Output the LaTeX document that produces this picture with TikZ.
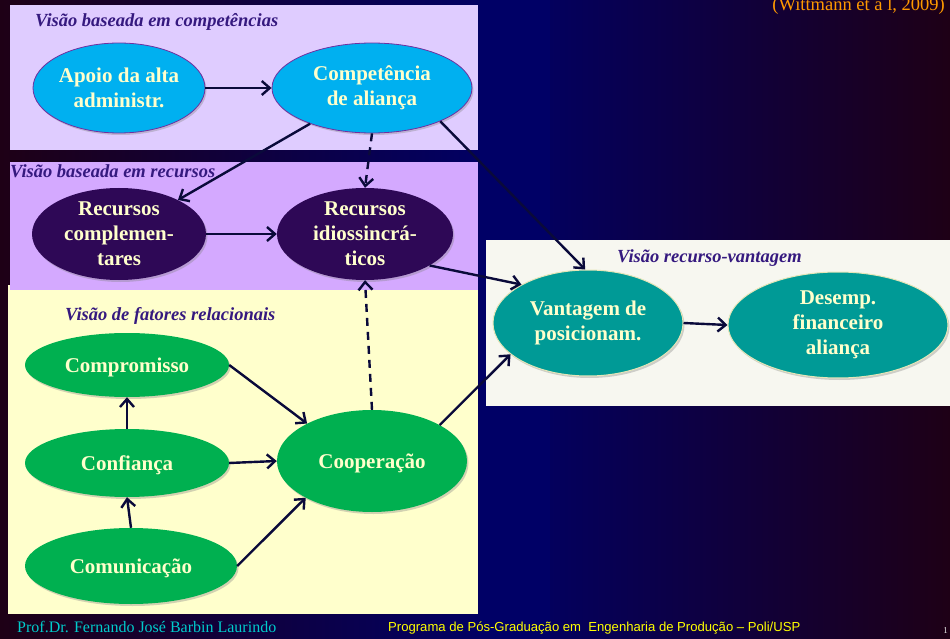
\documentclass[tikz,border=0pt]{standalone}
\usepackage{fontspec}
\setmainfont{Liberation Serif}
\setsansfont{Liberation Sans}
\usetikzlibrary{shapes.geometric,arrows.meta,shadows}
\definecolor{navybg}{HTML}{000066}
\definecolor{maroonbg}{HTML}{1E0016}
\definecolor{panelA}{HTML}{DFCCFF}
\definecolor{panelB}{HTML}{D4A9FF}
\definecolor{panelC}{HTML}{FFFFCC}
\definecolor{panelD}{HTML}{F7F7F0}
\definecolor{skyfill}{HTML}{00B0F0}
\definecolor{skyline}{HTML}{7030A0}
\definecolor{plumfill}{HTML}{2E0856}
\definecolor{greenfill}{HTML}{00B050}
\definecolor{tealfill}{HTML}{009A96}
\definecolor{tealline}{HTML}{E6E6B8}
\definecolor{nodetext}{HTML}{FFFFCC}
\definecolor{labeltext}{HTML}{35197F}
\definecolor{arrowcol}{HTML}{0A0A3A}
\definecolor{citecol}{HTML}{FF9900}
\definecolor{authorcol}{HTML}{00CCCC}
\definecolor{progcol}{HTML}{FFFF00}
\tikzset{
  bub/.style={ellipse, inner sep=0pt, align=center, text=nodetext,
    font=\fontsize{21}{25}\selectfont\bfseries,
    execute at begin node={\rule{0pt}{20pt}},
    drop shadow={opacity=0.35, shadow xshift=1.5pt, shadow yshift=-2pt}},
  sky/.style={bub, fill=skyfill, draw=skyline, line width=0.8pt},
  plum/.style={bub, fill=plumfill},
  grn/.style={bub, fill=greenfill},
  teal/.style={bub, fill=tealfill, draw=tealline, line width=1pt},
  viewlabel/.style={text=labeltext, font=\fontsize{18.5}{21}\selectfont\bfseries\itshape, inner sep=0pt},
  link/.style={draw=arrowcol, line width=2.4pt, -{Straight Barb[length=8pt,width=14pt,line width=2.4pt]}},
  dlink/.style={link, dash pattern=on 8pt off 6pt},
}
\begin{document}
\begin{tikzpicture}[x=1pt,y=-1pt]
\useasboundingbox (0,0) rectangle (950,639);
% background
\shade[left color=maroonbg, right color=navybg] (0,0) rectangle (500,639);
\shade[left color=navybg, right color=maroonbg] (500,0) rectangle (950,639);
\fill[navybg] (480,0) rectangle (550,639);
% panels
\fill[panelC] (8,285) rectangle (478,614);
\fill[panelA] (10,5) rectangle (478,150);
\fill[panelB] (10,162) rectangle (478,290);
\fill[panelD] (486,240) rectangle (950,406);
% labels
\node[viewlabel, anchor=west] (lblA) at (35,22) {Visão baseada em competências};
\node[viewlabel, anchor=west] (lblB) at (10,171) {Visão baseada em recursos};
\node[viewlabel, anchor=west] (lblC) at (65,316) {Visão de fatores relacionais};
\node[viewlabel, anchor=west] (lblD) at (617,258) {Visão recurso-vantagem};
% nodes
\node[sky, minimum width=172pt, minimum height=90pt] (apoio) at (119,88) {Apoio da alta\\administr.};
\node[sky, minimum width=200pt, minimum height=90pt] (comp) at (372,88) {Competência\\de aliança};
\node[plum, minimum width=174pt, minimum height=92pt] (reccomp) at (119,234) {Recursos\\complemen-\\tares};
\node[plum, minimum width=176pt, minimum height=92pt] (recidio) at (365,234) {Recursos\\idiossincrá-\\ticos};
\node[teal, minimum width=190pt, minimum height=106pt] (vant) at (588,323) {Vantagem de\\posicionam.};
\node[teal, minimum width=220pt, minimum height=106pt] (desemp) at (838,325) {Desemp.\\financeiro\\aliança};
\node[grn, minimum width=204pt, minimum height=64pt] (compr) at (127,365) {Compromisso};
\node[grn, minimum width=204pt, minimum height=68pt] (conf) at (127,463) {Confiança};
\node[grn, minimum width=212pt, minimum height=76pt] (comm) at (131,566) {Comunicação};
\node[grn, minimum width=190pt, minimum height=102pt] (coop) at (372,461) {Cooperação};
% connectors
\draw[link] (apoio.east) -- (comp.west);
\draw[link] (comp) -- (reccomp);
\draw[dlink] (comp.south) -- (recidio.north);
\draw[link] (comp.-26) -- (vant.93);
\draw[link] (reccomp.east) -- (recidio.west);
\draw[link] (recidio.-26) -- (vant.150);
\draw[dlink] (coop.north) -- (recidio.south);
\draw[link] (compr.east) -- (coop.150);
\draw[link] (conf.north) -- (compr.south);
\draw[link] (conf.east) -- (coop.west);
\draw[link] (comm.north) -- (conf.south);
\draw[link] (comm.east) -- (coop.209);
\draw[link] (coop.28) -- (vant.202);
\draw[link] (vant.east) -- (desemp.west);
% header and footer
\node[anchor=base east, text=citecol, font=\fontsize{18.5}{21}\selectfont, inner sep=0pt] (cite) at (945,11) {(Wittmann et a l, 2009)};
\node[anchor=base west, text=authorcol, font=\fontsize{16}{18}\selectfont, inner sep=0pt] (author) at (17,632) {Prof.Dr. Fernando José Barbin Laurindo};
\node[anchor=base west, text=progcol, font=\sffamily\fontsize{13.1}{15}\selectfont, inner sep=0pt] (prog) at (388,631) {Programa de Pós-Graduação em \ Engenharia de Produção – Poli/USP};
\node[anchor=base east, text=white!80!gray, font=\fontsize{9}{10}\selectfont, inner sep=0pt] (page) at (948,633) {1};
\end{tikzpicture}
\end{document}
